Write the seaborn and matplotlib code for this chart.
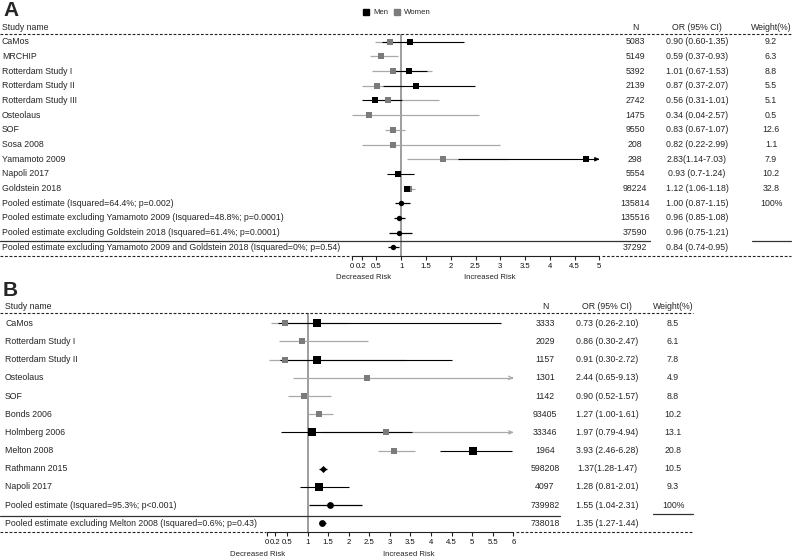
import numpy as np
import pandas as pd
import matplotlib
matplotlib.use("Agg")
import matplotlib.pyplot as plt
import matplotlib.transforms as mtrans
from matplotlib.lines import Line2D
from matplotlib import font_manager
import seaborn as sns

nan = np.nan

# ---------------- Panel A data ----------------
studies_a = ["CaMos", "MRCHIP", "Rotterdam Study I", "Rotterdam Study II", "Rotterdam Study III",
             "Osteolaus", "SOF", "Sosa 2008", "Yamamoto 2009", "Napoli 2017", "Goldstein 2018",
             "Pooled estimate (Isquared=64.4%; p=0.002)",
             "Pooled estimate excluding Yamamoto 2009 (Isquared=48.8%; p=0.0001)",
             "Pooled estimate excluding Goldstein 2018 (Isquared=61.4%; p=0.0001)",
             "Pooled estimate excluding Yamamoto 2009 and Goldstein 2018 (Isquared=0%; p=0.54)"]
n_a = ["5083", "5149", "5392", "2139", "2742", "1475", "9550", "208", "298", "5554", "98224",
       "135814", "135516", "37590", "37292"]
or_a = ["0.90 (0.60-1.35)", "0.59 (0.37-0.93)", "1.01 (0.67-1.53)", "0.87 (0.37-2.07)",
        "0.56 (0.31-1.01)", "0.34 (0.04-2.57)", "0.83 (0.67-1.07)", "0.82 (0.22-2.99)",
        "2.83(1.14-7.03)", "0.93 (0.7-1.24)", "1.12 (1.06-1.18)", "1.00 (0.87-1.15)",
        "0.96 (0.85-1.08)", "0.96 (0.75-1.21)", "0.84 (0.74-0.95)"]
weight_a = ["9.2", "6.3", "8.8", "5.5", "5.1", "0.5", "12.6", "1.1", "7.9", "10.2", "32.8",
            "100%", "", "", ""]
men_est_a = [1.18, nan, 1.16, 1.29, 0.48, nan, nan, nan, 4.73, 0.94, 1.11, nan, nan, nan, nan]
men_lo_a = [0.61, nan, 0.88, 0.64, 0.21, nan, nan, nan, 2.15, 0.71, 1.05, nan, nan, nan, nan]
men_hi_a = [2.27, nan, 1.52, 2.49, 1.02, nan, nan, nan, 5.00, 1.26, 1.18, nan, nan, nan, nan]
women_est_a = [0.77, 0.59, 0.83, 0.52, 0.73, 0.34, 0.84, 0.83, 1.85, nan, 1.15, nan, nan, nan, nan]
women_lo_a = [0.47, 0.37, 0.42, 0.21, 0.38, 0.01, 0.67, 0.21, 1.11, nan, 1.06, nan, nan, nan, nan]
women_hi_a = [1.24, 0.93, 1.62, 1.05, 1.77, 2.58, 1.07, 3.00, 3.16, nan, 1.28, nan, nan, nan, nan]
pool_est_a = [nan] * 11 + [1.00, 0.96, 0.96, 0.84]
pool_lo_a = [nan] * 11 + [0.87, 0.85, 0.75, 0.74]
pool_hi_a = [nan] * 11 + [1.17, 1.08, 1.21, 0.95]
men_arrow_a = ["Yamamoto 2009"]
women_arrow_a = []
ticks_a = [0, 0.2, 0.5, 1, 1.5, 2, 2.5, 3, 3.5, 4, 4.5, 5]
ticklabels_a = ["0", "0.2", "0.5", "1", "1.5", "2", "2.5", "3", "3.5", "4", "4.5", "5"]

# ---------------- Panel B data ----------------
studies_b = ["CaMos", "Rotterdam Study I", "Rotterdam Study II", "Osteolaus", "SOF", "Bonds 2006",
             "Holmberg 2006", "Melton 2008", "Rathmann 2015", "Napoli 2017",
             "Pooled estimate (Isquared=95.3%; p<0.001)",
             "Pooled estimate excluding Melton 2008 (Isquared=0.6%; p=0.43)"]
n_b = ["3333", "2029", "1157", "1301", "1142", "93405", "33346", "1964", "598208", "4097",
       "739982", "738018"]
or_b = ["0.73 (0.26-2.10)", "0.86 (0.30-2.47)", "0.91 (0.30-2.72)", "2.44 (0.65-9.13)",
        "0.90 (0.52-1.57)", "1.27 (1.00-1.61)", "1.97 (0.79-4.94)", "3.93 (2.46-6.28)",
        "1.37(1.28-1.47)", "1.28 (0.81-2.01)", "1.55 (1.04-2.31)", "1.35 (1.27-1.44)"]
weight_b = ["8.5", "6.1", "7.8", "4.9", "8.8", "10.2", "13.1", "20.8", "10.5", "9.3", "100%", ""]
men_est_b = [1.22, nan, 1.22, nan, nan, nan, 1.10, 5.02, nan, 1.28, nan, nan]
men_lo_b = [0.29, nan, 0.33, nan, nan, nan, 0.35, 4.22, nan, 0.81, nan, nan]
men_hi_b = [5.70, nan, 4.50, nan, nan, nan, 3.53, 5.96, nan, 2.01, nan, nan]
women_est_b = [0.45, 0.86, 0.44, 2.44, 0.90, 1.27, 2.90, 3.11, nan, nan, nan, nan]
women_lo_b = [0.10, 0.30, 0.06, 0.65, 0.52, 1.00, 1.32, 2.70, nan, nan, nan, nan]
women_hi_b = [1.95, 2.47, 3.39, 6.00, 1.57, 1.61, 6.00, 3.60, nan, nan, nan, nan]
pool_est_b = [nan] * 8 + [1.37, nan, 1.55, 1.35]
pool_lo_b = [nan] * 8 + [1.28, nan, 1.04, 1.27]
pool_hi_b = [nan] * 8 + [1.47, nan, 2.31, 1.44]
diamond_rows_b = ["Rathmann 2015"]
men_arrow_b = []
women_arrow_b = ["Osteolaus", "Holmberg 2006"]
ticks_b = [0, 0.2, 0.5, 1, 1.5, 2, 2.5, 3, 3.5, 4, 4.5, 5, 5.5, 6]
ticklabels_b = ["0", "0.2", "0.5", "1", "1.5", "2", "2.5", "3", "3.5", "4", "4.5", "5", "5.5", "6"]

# ---------------- style ----------------
sns.set_theme(style="white")
names = {f.name for f in font_manager.fontManager.ttflist}
narrow = "Liberation Sans Narrow" in names
base = "Liberation Sans Narrow" if narrow else "Liberation Sans"
plt.rcParams['font.family'] = [base, 'DejaVu Sans']
TXT = 7.4 if narrow else 6.3
TICK = 6.0 if narrow else 5.6

W, H = 793, 559
fig = plt.figure(figsize=(W / 100, H / 100), dpi=100)


def fx(px):
    return px / W


def fy(py):
    return 1 - py / H


MEN = "#000000"
WOM_M = "#7b7b7b"
WOM_L = "#a9a9a9"


def hline(x0, x1, y, ls="-", color="#222222", lw=0.8):
    fig.add_artist(Line2D([fx(x0), fx(x1)], [fy(y), fy(y)], transform=fig.transFigure,
                          color=color, lw=lw, ls=ls))


def panel(p):
    nrows = len(p["studies"])
    r0, dr = p["row0"], p["drow"]

    def rowof(py):
        return (py - r0) / dr

    ax = fig.add_axes([fx(p["x0"]), fy(p["axis_y"]), (p["x1"] - p["x0"]) / W,
                       (p["axis_y"] - p["top_y"]) / H])
    for s in ["left", "right", "top"]:
        ax.spines[s].set_visible(False)
    ax.spines["bottom"].set_color("#222222")
    ax.spines["bottom"].set_linewidth(0.8)
    ax.patch.set_alpha(0)
    ax.axvline(1, color="#8c8c8c", lw=1.2, zorder=1)

    rows = np.arange(nrows)
    studies = p["studies"]
    for i in rows:
        if not np.isnan(p["w_est"][i]):
            ax.hlines(i, p["w_lo"][i], p["w_hi"][i], color=WOM_L, lw=0.9, zorder=2)
            if studies[i] in p["w_arrow"]:
                ax.annotate("", xy=(p["w_hi"][i], i), xytext=(p["w_hi"][i] - 0.1, i),
                            arrowprops=dict(arrowstyle="->", color=WOM_L, lw=0.9,
                                            mutation_scale=6), annotation_clip=False)
        if not np.isnan(p["m_est"][i]):
            ax.hlines(i, p["m_lo"][i], p["m_hi"][i], color=MEN, lw=0.8, zorder=3)
            if studies[i] in p["m_arrow"]:
                ax.annotate("", xy=(p["m_hi"][i], i), xytext=(p["m_hi"][i] - 0.1, i),
                            arrowprops=dict(arrowstyle="-|>", color=MEN, lw=0.8,
                                            mutation_scale=6), annotation_clip=False)
        if not np.isnan(p["p_est"][i]):
            ax.hlines(i, p["p_lo"][i], p["p_hi"][i], color=MEN, lw=0.9, zorder=3)

    dfw = pd.DataFrame({"row": rows, "est": p["w_est"]}).dropna()
    dfm = pd.DataFrame({"row": rows, "est": p["m_est"]}).dropna()
    dfp = pd.DataFrame({"row": rows, "est": p["p_est"], "study": studies}).dropna()
    dfd = dfp[dfp["study"].isin(p["diamonds"])]
    dfc = dfp[~dfp["study"].isin(p["diamonds"])]
    sns.scatterplot(data=dfw, x="est", y="row", marker="s", color=WOM_M, s=p["ws"],
                    linewidth=0, ax=ax, legend=False, zorder=4)
    sns.scatterplot(data=dfm, x="est", y="row", marker="s", color=MEN, s=p["ms"],
                    linewidth=0, ax=ax, legend=False, zorder=5)
    sns.scatterplot(data=dfc, x="est", y="row", marker="o", color=MEN, s=p["ps"],
                    linewidth=0, ax=ax, legend=False, zorder=5)
    if len(dfd):
        sns.scatterplot(data=dfd, x="est", y="row", marker="D", color=MEN, s=p["ds"],
                        linewidth=0, ax=ax, legend=False, zorder=5)
    ax.set_xlabel("")
    ax.set_ylabel("")
    ax.set_xlim(0, p["xmax"])
    ax.set_ylim(rowof(p["axis_y"]), rowof(p["top_y"]))
    ax.set_yticks([])
    ax.set_xticks(p["ticks"])
    ax.set_xticklabels(p["ticklabels"])
    ax.tick_params(axis="x", bottom=True, direction="out", length=3, width=0.8,
                   labelsize=TICK, pad=2.4, color="#222222", labelcolor="#111111")

    # table text
    tr = mtrans.blended_transform_factory(fig.transFigure, ax.transData)
    hy = rowof(p["head_y"])
    ax.text(fx(p["lab_x"]), hy, "Study name", transform=tr, ha="left", va="center", fontsize=TXT)
    ax.text(fx(p["n_x"]), hy, "N", transform=tr, ha="center", va="center", fontsize=TXT)
    ax.text(fx(p["or_x"]), hy, "OR (95% CI)", transform=tr, ha="center", va="center", fontsize=TXT)
    ax.text(fx(p["w_x"]), hy, "Weight(%)", transform=tr, ha="center", va="center", fontsize=TXT)
    for i in rows:
        ax.text(fx(p["lab_x"]), i, studies[i], transform=tr, ha="left", va="center", fontsize=TXT)
        ax.text(fx(p["n_x"]), i, p["n"][i], transform=tr, ha="center", va="center", fontsize=TXT)
        ax.text(fx(p["or_x"]), i, p["or"][i], transform=tr, ha="center", va="center", fontsize=TXT)
        ax.text(fx(p["w_x"]), i, p["weight"][i], transform=tr, ha="center", va="center", fontsize=TXT)

    # risk labels
    tr2 = mtrans.blended_transform_factory(ax.transData, fig.transFigure)
    ax.text(p["dec_x"], fy(p["risk_y"]), "Decreased Risk", transform=tr2, ha="center",
            va="center", fontsize=TICK)
    ax.text(p["inc_x"], fy(p["risk_y"]), "Increased Risk", transform=tr2, ha="center",
            va="center", fontsize=TICK)

    # rules
    hline(0, p["right"], p["top_y"], ls=(0, (2.5, 1.6)))
    hline(0, p["x0"] - 1, p["axis_y"], ls=(0, (2.5, 1.6)))
    hline(p["x1"] + 3, p["right"], p["axis_y"], ls=(0, (2.5, 1.6)))
    for seg in p["solid"]:
        hline(seg[0], seg[1], seg[2], color="#333333", lw=0.9)
    fig.text(fx(p["letter_x"]), fy(p["letter_y"]), p["letter"], fontsize=15,
             fontweight="bold", family="Liberation Sans", ha="left", va="center")
    return ax


cfgA = dict(studies=studies_a, n=n_a, or_=or_a, weight=weight_a,
            m_est=men_est_a, m_lo=men_lo_a, m_hi=men_hi_a,
            w_est=women_est_a, w_lo=women_lo_a, w_hi=women_hi_a,
            p_est=pool_est_a, p_lo=pool_lo_a, p_hi=pool_hi_a,
            m_arrow=men_arrow_a, w_arrow=women_arrow_a, diamonds=[],
            ticks=ticks_a, ticklabels=ticklabels_a, xmax=5,
            x0=351.7, x1=599.3, top_y=34, axis_y=256, row0=41.7, drow=14.69,
            head_y=27.5, lab_x=2, n_x=635, or_x=697, w_x=771, right=791,
            dec_x=0.23, inc_x=2.78, risk_y=277.5,
            solid=[(0, 650, 240.7), (752, 791, 240.7)],
            ms=20, ws=16, ps=15, ds=15, letter="A", letter_x=3, letter_y=11)
cfgA["or"] = or_a
cfgB = dict(studies=studies_b, n=n_b, weight=weight_b,
            m_est=men_est_b, m_lo=men_lo_b, m_hi=men_hi_b,
            w_est=women_est_b, w_lo=women_lo_b, w_hi=women_hi_b,
            p_est=pool_est_b, p_lo=pool_lo_b, p_hi=pool_hi_b,
            m_arrow=men_arrow_b, w_arrow=women_arrow_b, diamonds=diamond_rows_b,
            ticks=ticks_b, ticklabels=ticklabels_b, xmax=6,
            x0=266.5, x1=513.3, top_y=312.7, axis_y=532, row0=323.3, drow=18.18,
            head_y=306.5, lab_x=5, n_x=545, or_x=607, w_x=673, right=693,
            dec_x=-0.22, inc_x=3.46, risk_y=554.5,
            solid=[(0, 560, 515.5), (653, 693, 514)],
            ms=26, ws=19, ps=24, ds=13, letter="B", letter_x=3, letter_y=290)
cfgB["or"] = or_b

axA = panel(cfgA)
axB = panel(cfgB)

# legend (panel A)
fig.add_artist(Line2D([fx(366)], [fy(12)], transform=fig.transFigure, marker="s",
                      color=MEN, markersize=5, ls="none"))
fig.text(fx(373), fy(12), "Men", fontsize=5.6, ha="left", va="center")
fig.add_artist(Line2D([fx(397)], [fy(12)], transform=fig.transFigure, marker="s",
                      color=WOM_M, markersize=5, ls="none"))
fig.text(fx(404), fy(12), "Women", fontsize=5.6, ha="left", va="center")

fig.savefig("out.png", dpi=100)
